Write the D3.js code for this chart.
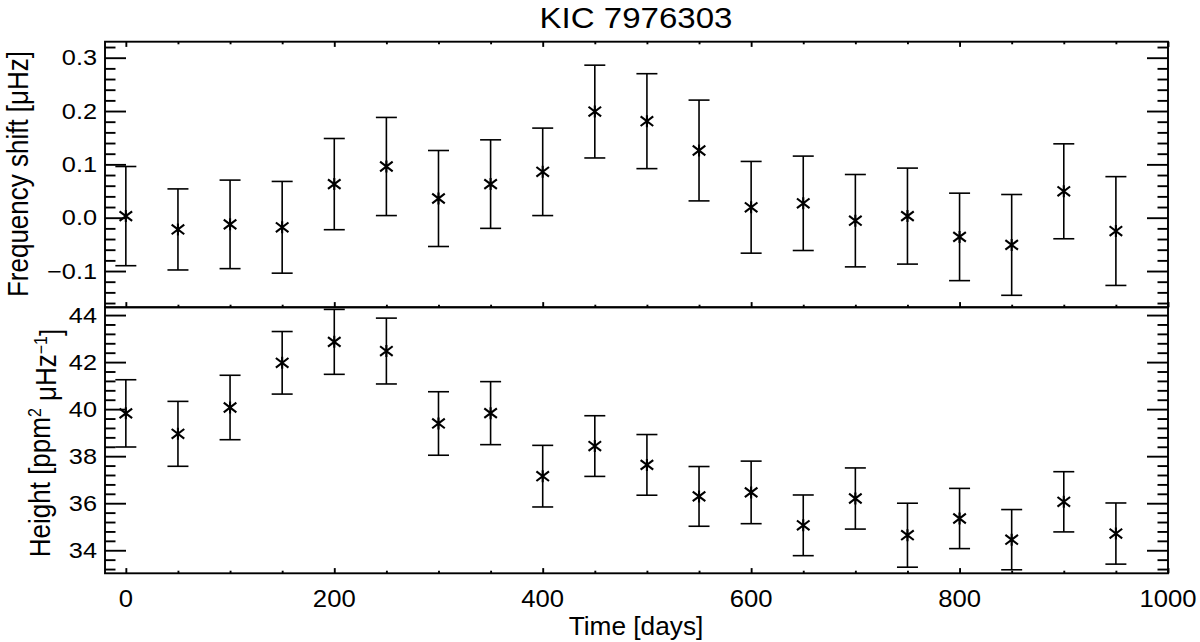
<!DOCTYPE html>
<html>
<head>
<meta charset="utf-8">
<script src="https://cdn.jsdelivr.net/npm/d3@7"></script>
<style>
  html, body { margin: 0; padding: 0; background: #fff; }
  svg { display: block; }
  text { font-family: "Liberation Sans", Arial, Helvetica, sans-serif; fill: #000; }
</style>
</head>
<body>
<svg id="chart" width="1200" height="642"></svg>
<script>
// ---------------- data ----------------
const days = [0, 50, 100, 150, 200, 250, 300, 350, 400, 450, 500, 550, 600, 650, 700, 750, 800, 850, 900, 950];
const freqShift = [0.003, -0.022, -0.0125, -0.018, 0.063, 0.096, 0.036, 0.063, 0.086, 0.199,
                   0.181, 0.126, 0.0195, 0.027, -0.0056, 0.003, -0.036, -0.051, 0.0495, -0.025];
const freqErr = [0.093, 0.076, 0.083, 0.086, 0.0855, 0.092, 0.090, 0.083, 0.082, 0.087,
                 0.089, 0.0945, 0.086, 0.0885, 0.0866, 0.090, 0.082, 0.0945, 0.089, 0.102];
const heightVal = [39.82, 38.95, 40.07, 41.97, 42.86, 42.47, 39.39, 39.83, 37.15, 38.43,
                   37.63, 36.29, 36.46, 35.06, 36.20, 34.64, 35.35, 34.45, 36.06, 34.71];
const heightErr = [1.43, 1.38, 1.37, 1.33, 1.38, 1.40, 1.35, 1.34, 1.31, 1.29,
                   1.29, 1.27, 1.33, 1.29, 1.30, 1.36, 1.28, 1.28, 1.28, 1.30];

const xTicks = [0, 200, 400, 600, 800, 1000];
const xMinorTicks = d3.range(0, 1001, 50);
const freqTicks = [-0.1, 0.0, 0.1, 0.2, 0.3];
const freqTickLabels = ["\u22120.1", "0.0", "0.1", "0.2", "0.3"];
const freqMinorTicks = d3.range(-16, 33, 2).map(v => v / 100);
const heightTicks = [34, 36, 38, 40, 42, 44];
const heightMinorTicks = d3.range(332, 444, 4).map(v => v / 10);

const titleText = "KIC 7976303";
const xLabel = "Time [days]";

// ---------------- layout ----------------
const L = 105, R = 1168, T1 = 41.7, M = 307.3, B = 573.3;
const svg = d3.select("#chart");

const x = d3.scaleLinear().domain([-20, 1000]).range([L, R]);
const yF = d3.scaleLinear().domain([-0.168, 0.33]).range([M, T1]);
const yH = d3.scaleLinear().domain([33.02, 44.33]).range([B, M]);

const AX_W = 1.9;

function styleAxis(g) {
  g.select(".domain").remove();
  g.selectAll(".tick line").attr("stroke", "#000").attr("stroke-width", AX_W);
  g.selectAll(".tick text").remove();
}

function xAxes(yTop, yBot, drawTop) {
  const minorOnly = xMinorTicks.filter(v => !xTicks.includes(v));
  svg.append("g").attr("transform", `translate(0,${yBot})`)
    .call(d3.axisBottom(x).tickValues(minorOnly).tickSize(-2.6).tickFormat(""))
    .call(styleAxis);
  svg.append("g").attr("transform", `translate(0,${yBot})`)
    .call(d3.axisBottom(x).tickValues(xTicks).tickSize(-5.2).tickFormat(""))
    .call(styleAxis);
  if (drawTop) {
    svg.append("g").attr("transform", `translate(0,${yTop})`)
      .call(d3.axisTop(x).tickValues(minorOnly).tickSize(-2.6).tickFormat(""))
      .call(styleAxis);
    svg.append("g").attr("transform", `translate(0,${yTop})`)
      .call(d3.axisTop(x).tickValues(xTicks).tickSize(-5.2).tickFormat(""))
      .call(styleAxis);
  }
}

function yAxes(scale, majors, minors) {
  const minorOnly = minors.filter(v => !majors.some(m => Math.abs(m - v) < 1e-9));
  svg.append("g").attr("transform", `translate(${L},0)`)
    .call(d3.axisLeft(scale).tickValues(minorOnly).tickSize(-10.5).tickFormat(""))
    .call(styleAxis);
  svg.append("g").attr("transform", `translate(${L},0)`)
    .call(d3.axisLeft(scale).tickValues(majors).tickSize(-21).tickFormat(""))
    .call(styleAxis);
  svg.append("g").attr("transform", `translate(${R},0)`)
    .call(d3.axisRight(scale).tickValues(minorOnly).tickSize(-10.5).tickFormat(""))
    .call(styleAxis);
  svg.append("g").attr("transform", `translate(${R},0)`)
    .call(d3.axisRight(scale).tickValues(majors).tickSize(-21).tickFormat(""))
    .call(styleAxis);
}

function stretchedText(px, py, txt, size, sx, anchor, rot) {
  return svg.append("text")
    .attr("transform", `translate(${px},${py}) scale(${sx},1)` + (rot ? " rotate(-90)" : ""))
    .attr("text-anchor", anchor)
    .style("font-size", size + "px")
    .text(txt);
}

// ticks
xAxes(T1, M, true);
xAxes(M, B, false);
yAxes(yF, freqTicks, freqMinorTicks);
yAxes(yH, heightTicks, heightMinorTicks);

// frames
[[T1, M], [M, B]].forEach(([a, b]) => {
  svg.append("rect").attr("x", L).attr("y", a).attr("width", R - L).attr("height", b - a)
    .attr("fill", "none").attr("stroke", "#000").attr("stroke-width", AX_W);
});

// tick labels
freqTicks.forEach((v, i) => stretchedText(97, yF(v) + 7.6, freqTickLabels[i], 22, 1.15, "end", false));
heightTicks.forEach(v => stretchedText(97, yH(v) + 7.6, String(v), 22, 1.15, "end", false));
xTicks.forEach(v => stretchedText(x(v), 607, String(v), 24, 1.07, "middle", false));

// titles / labels
stretchedText(636, 28, titleText, 29.5, 1.12, "middle", false);
stretchedText(636, 635, xLabel, 25, 1.05, "middle", false);

stretchedText(28, 174, "Frequency shift [\u03bcHz]", 26, 1.12, "middle", true);

const hl = svg.append("text")
  .attr("transform", `translate(50,443) scale(1.12,1) rotate(-90)`)
  .attr("text-anchor", "middle")
  .style("font-size", "26px");
hl.append("tspan").text("Height [ppm");
hl.append("tspan").attr("dy", "-0.5em").style("font-size", "16px").text("2");
hl.append("tspan").attr("dy", "0.5em").text(" \u03bcHz");
hl.append("tspan").attr("dy", "-0.5em").style("font-size", "16px").text("\u22121");
hl.append("tspan").attr("dy", "0.5em").text("]");

// ---------------- marks ----------------
const CAP = 10.5;
function drawSeries(vals, errs, yScale) {
  const g = svg.append("g").attr("stroke", "#000").attr("stroke-width", 1.6).attr("fill", "none");
  days.forEach((d, i) => {
    const cx = x(d);
    const yt = yScale(vals[i] + errs[i]);
    const yb = yScale(vals[i] - errs[i]);
    const cy = yScale(vals[i]);
    g.append("line").attr("x1", cx).attr("x2", cx).attr("y1", yt).attr("y2", yb);
    g.append("line").attr("x1", cx - CAP).attr("x2", cx + CAP).attr("y1", yt).attr("y2", yt);
    g.append("line").attr("x1", cx - CAP).attr("x2", cx + CAP).attr("y1", yb).attr("y2", yb);
    // asterisk marker
    g.append("path")
      .attr("stroke-width", 2.1)
      .attr("d", `M${cx - 6.3},${cy - 4.8}L${cx + 6.3},${cy + 4.8}M${cx - 6.3},${cy + 4.8}L${cx + 6.3},${cy - 4.8}M${cx},${cy - 6}L${cx},${cy + 6}`);
  });
}
drawSeries(freqShift, freqErr, yF);
drawSeries(heightVal, heightErr, yH);
</script>
</body>
</html>
